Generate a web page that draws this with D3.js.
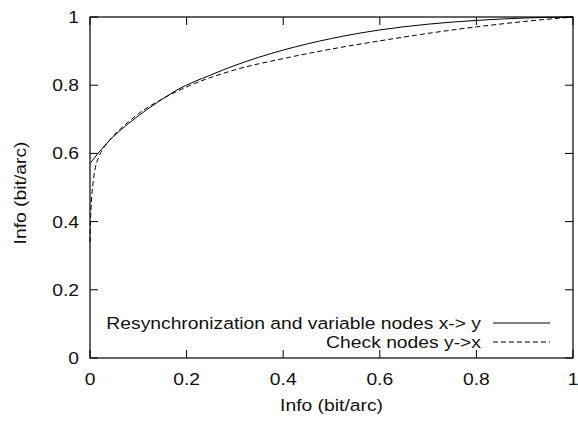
<!DOCTYPE html>
<html>
<head>
<meta charset="utf-8">
<script src="https://cdn.jsdelivr.net/npm/d3@7"></script>
<style>
  body { margin: 0; background: #fff; }
  text { font-family: "Liberation Sans", Arial, sans-serif; fill: #111; }
</style>
</head>
<body>
<script>
// values
var xTicks = [0, 0.2, 0.4, 0.6, 0.8, 1];
var yTicks = [0, 0.2, 0.4, 0.6, 0.8, 1];

var resyncX = [0, 0.02, 0.04, 0.06, 0.08, 0.1, 0.14, 0.18, 0.25, 0.3, 0.4, 0.5, 0.6, 0.7, 0.8, 0.9, 1];
var resyncY = [0.57, 0.606, 0.637, 0.664, 0.688, 0.71, 0.75, 0.786, 0.83, 0.858, 0.903, 0.937, 0.962, 0.979, 0.99, 0.997, 1.0];

var checkX = [0, 0.001, 0.003, 0.006, 0.01, 0.02, 0.03, 0.04, 0.06, 0.08, 0.1, 0.15, 0.2, 0.3, 0.4, 0.5, 0.6, 0.7, 0.8, 0.9, 1];
var checkY = [0.34, 0.40, 0.46, 0.51, 0.55, 0.595, 0.62, 0.638, 0.668, 0.693, 0.716, 0.76, 0.795, 0.845, 0.878, 0.906, 0.93, 0.952, 0.971, 0.987, 1.0];

var seriesNames = ['Resynchronization and variable nodes x-> y', 'Check nodes y->x'];

var W = 578, H = 423;
var pLeft = 90, pRight = 573, pTop = 17, pBottom = 358;
var fontSize = 16.5, stretch = 1.17;

var svg = d3.select('body').append('svg')
    .attr('width', W)
    .attr('height', H);

var x = d3.scaleLinear().domain([0, 1]).range([pLeft, pRight]);
var y = d3.scaleLinear().domain([0, 1]).range([pBottom, pTop]);

// gnuplot text is a bit wider than the font, so stretch it horizontally
function drawText(str, tx, ty, anchor, rot) {
  svg.append('text')
      .attr('transform', 'translate(' + tx + ',' + ty + ')' + (rot ? ' rotate(' + rot + ')' : '') + ' scale(' + stretch + ',1)')
      .attr('text-anchor', anchor)
      .attr('font-size', fontSize)
      .text(str);
}

// ticks on all four sides, pointing inwards
var tickLen = 8;
var g = svg.append('g').attr('stroke', '#000').attr('stroke-width', 1);
xTicks.forEach(function(t) {
  g.append('line').attr('x1', x(t)).attr('x2', x(t)).attr('y1', pBottom).attr('y2', pBottom - tickLen);
  g.append('line').attr('x1', x(t)).attr('x2', x(t)).attr('y1', pTop).attr('y2', pTop + tickLen);
});
yTicks.forEach(function(t) {
  g.append('line').attr('x1', pLeft).attr('x2', pLeft + tickLen).attr('y1', y(t)).attr('y2', y(t));
  g.append('line').attr('x1', pRight).attr('x2', pRight - tickLen).attr('y1', y(t)).attr('y2', y(t));
});

xTicks.forEach(function(t) { drawText(d3.format('')(t), x(t), 385, 'middle'); });
yTicks.forEach(function(t) { drawText(d3.format('')(t), 79, y(t) + 6, 'end'); });

drawText('Info (bit/arc)', (pLeft + pRight) / 2, 411, 'middle');
drawText('Info (bit/arc)', 26, 193, 'middle', -90);

var line = d3.line()
    .x(function(d) { return x(d[0]); })
    .y(function(d) { return y(d[1]); })
    .curve(d3.curveMonotoneX);

var resync = d3.zip(resyncX, resyncY);
var check = d3.zip(checkX, checkY);

svg.append('path')
    .attr('d', line(resync))
    .attr('fill', 'none')
    .attr('stroke', '#000')
    .attr('stroke-width', 1);

svg.append('path')
    .attr('d', line(check))
    .attr('fill', 'none')
    .attr('stroke', '#000')
    .attr('stroke-width', 1)
    .attr('stroke-dasharray', '5,3');

// legend
var legY = [323, 342];
var dashes = [null, '5,3'];
seriesNames.forEach(function(name, i) {
  drawText(name, 481, legY[i] + 6, 'end');
  svg.append('line')
      .attr('x1', 493).attr('x2', 550)
      .attr('y1', legY[i]).attr('y2', legY[i])
      .attr('stroke', '#000')
      .attr('stroke-width', 1)
      .attr('stroke-dasharray', dashes[i]);
});

// frame
svg.append('rect')
    .attr('x', pLeft).attr('y', pTop)
    .attr('width', pRight - pLeft).attr('height', pBottom - pTop)
    .attr('fill', 'none')
    .attr('stroke', '#000')
    .attr('stroke-width', 1.2);
</script>
</body>
</html>
